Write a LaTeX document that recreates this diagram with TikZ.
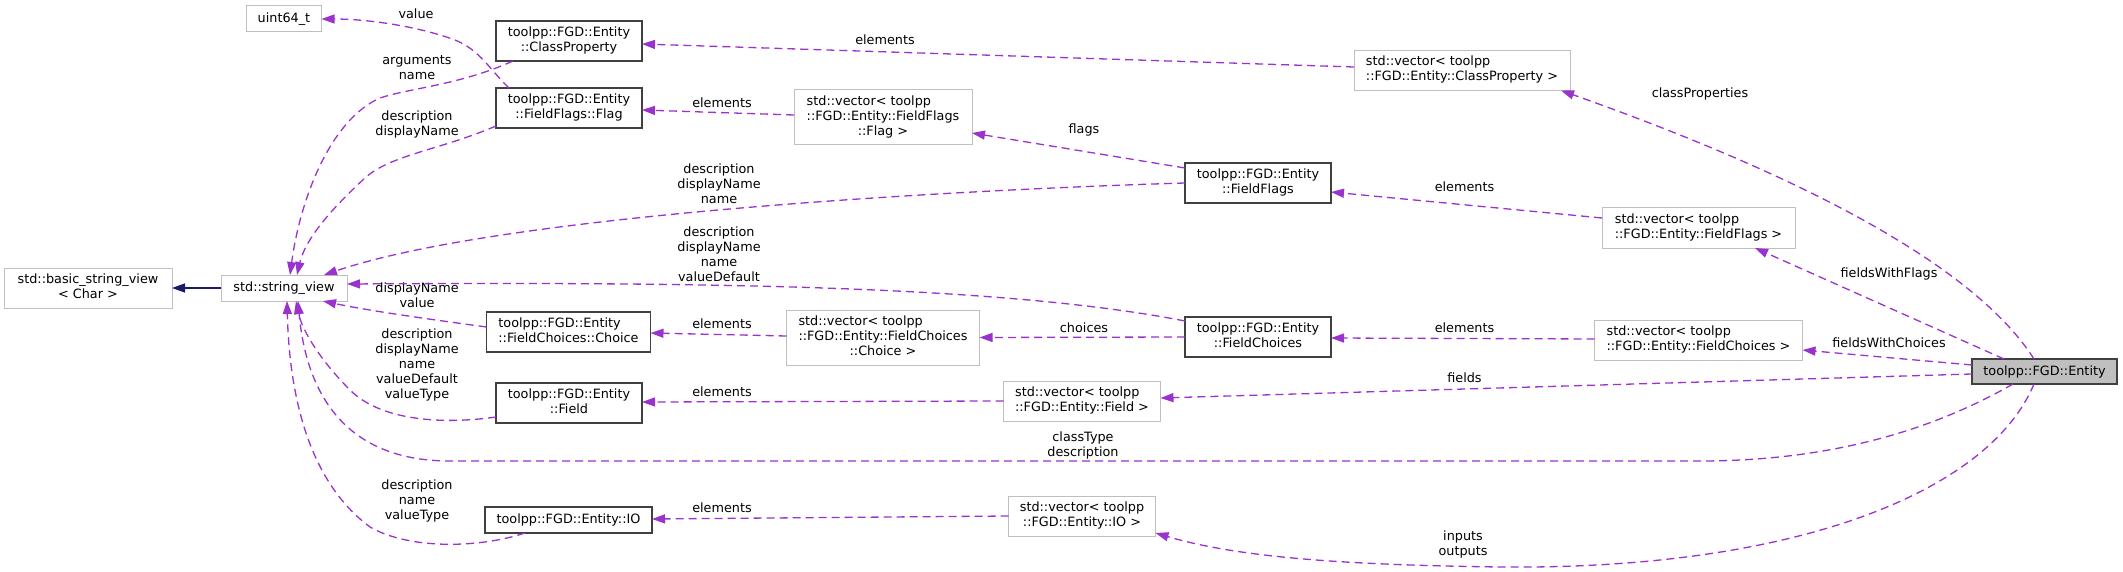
\documentclass[tikz,border=0pt]{standalone}
\usepackage{fontspec}
\setmainfont{DejaVu Sans}
\usetikzlibrary{arrows.meta}
\definecolor{edgec}{HTML}{9A32CD}
\definecolor{inhc}{HTML}{191970}
\definecolor{boxgray}{HTML}{BFBFBF}
\definecolor{rootfill}{HTML}{BFBFBF}
\definecolor{rootdraw}{HTML}{404040}
\newcommand{\LastC}[1]{\multicolumn{1}{@{}c@{}}{#1}}
\newcommand{\BoxText}[1]{\begin{tabular}{@{}l@{}}#1\end{tabular}}
\begin{document}
\begin{tikzpicture}[x=1pt,y=-1pt,
  every node/.style={font=\fontsize{12.8}{15}\selectfont, inner sep=0pt, outer sep=0pt},
  extbox/.style={draw=boxgray, line width=1pt, fill=white},
  clsbox/.style={draw=rootdraw, line width=1.3pt, fill=white},
  rootbox/.style={draw=rootdraw, line width=1.3pt, fill=rootfill},
  sz/.style 2 args={minimum width=#1pt, minimum height=#2pt},
  rel/.style={draw=edgec, line width=1.3pt, dash pattern=on 8pt off 5pt, -{Triangle[length=13pt,width=9pt]}},
  inh/.style={draw=inhc, line width=1.3pt, -{Triangle[length=13pt,width=9pt]}},
  lbl/.style={align=center}]
\useasboundingbox (0,0) rectangle (2123,572);
% nodes
\node[extbox, sz={75}{26}] (uint) at (284,19) {uint64\_t};
\node[clsbox, sz={146}{40}] (cp) at (569,41) {\BoxText{toolpp::FGD::Entity\\\LastC{::ClassProperty}}};
\node[clsbox, sz={146}{40}] (flag) at (569,108) {\BoxText{toolpp::FGD::Entity\\\LastC{::FieldFlags::Flag}}};
\node[extbox, sz={168}{40}] (bsv) at (88,288) {\BoxText{std::basic\_string\_view\\\LastC{< Char >}}};
\node[extbox, sz={126}{26}] (sv) at (284,288) {std::string\_view};
\node[clsbox, sz={164}{40}] (choice) at (568.5,332) {\BoxText{toolpp::FGD::Entity\\\LastC{::FieldChoices::Choice}}};
\node[clsbox, sz={146}{40}] (field) at (569,403) {\BoxText{toolpp::FGD::Entity\\\LastC{::Field}}};
\node[clsbox, sz={167}{26}] (io) at (568.5,520) {toolpp::FGD::Entity::IO};
\node[extbox, sz={216}{40}] (cpvec) at (1462,70.5) {\BoxText{std::vector< toolpp\\\LastC{::FGD::Entity::ClassProperty >}}};
\node[extbox, sz={178}{55}] (flagvec) at (883,117.5) {\BoxText{std::vector< toolpp\\::FGD::Entity::FieldFlags\\\LastC{::Flag >}}};
\node[clsbox, sz={146}{40}] (ff) at (1258,183) {\BoxText{toolpp::FGD::Entity\\\LastC{::FieldFlags}}};
\node[extbox, sz={193}{55}] (choicevec) at (883,337.5) {\BoxText{std::vector< toolpp\\::FGD::Entity::FieldChoices\\\LastC{::Choice >}}};
\node[clsbox, sz={146}{40}] (fc) at (1258,337) {\BoxText{toolpp::FGD::Entity\\\LastC{::FieldChoices}}};
\node[extbox, sz={157}{40}] (fieldvec) at (1082,401) {\BoxText{std::vector< toolpp\\\LastC{::FGD::Entity::Field >}}};
\node[extbox, sz={147}{40}] (iovec) at (1082,516) {\BoxText{std::vector< toolpp\\\LastC{::FGD::Entity::IO >}}};
\node[extbox, sz={193}{40}] (ffvec) at (1698.5,228) {\BoxText{std::vector< toolpp\\\LastC{::FGD::Entity::FieldFlags >}}};
\node[extbox, sz={208}{40}] (fcvec) at (1698.5,340) {\BoxText{std::vector< toolpp\\\LastC{::FGD::Entity::FieldChoices >}}};
\node[rootbox, sz={145}{25}] (entity) at (2044.5,371.5) {toolpp::FGD::Entity};
% labels
\node[lbl] (lb1) at (1700,94) {classProperties};
\node[lbl] (lb2) at (1889,274) {fieldsWithFlags};
\node[lbl] (lb3) at (1889,343) {fieldsWithChoices};
\node[lbl] (lb4) at (1464.5,378) {fields};
\node[lbl] (lb5) at (1083,445) {classType\\description};
\node[lbl] (lb6) at (1463,544.5) {inputs\\outputs};
\node[lbl] (lb7) at (885,40) {elements};
\node[lbl] (lb8) at (1464.5,187) {elements};
\node[lbl] (lb9) at (1464.5,328) {elements};
\node[lbl] (lb10) at (1084,130) {flags};
\node[lbl] (lb11) at (719,184) {description\\displayName\\name};
\node[lbl] (lb12) at (719,254) {description\\displayName\\name\\valueDefault};
\node[lbl] (lb13) at (1084,328) {choices};
\node[lbl] (lb14) at (722,103) {elements};
\node[lbl] (lb15) at (722,324) {elements};
\node[lbl] (lb16) at (722,392) {elements};
\node[lbl] (lb17) at (722,508) {elements};
\node[lbl] (lb18) at (417,67.5) {arguments\\name};
\node[lbl] (lb19) at (417,124) {description\\displayName};
\node[lbl] (lb20) at (416,14) {value};
\node[lbl] (lb21) at (417,295.5) {displayName\\value};
\node[lbl] (lb22) at (417,364.5) {description\\displayName\\name\\valueDefault\\valueType};
\node[lbl] (lb23) at (417,501) {description\\name\\valueType};
% edges
\draw[rel] ([shift={(-10.5,0)}]entity.north) .. controls (1990,290) and (1870,200) .. ([shift={(99,0)}]cpvec.south);
\draw[rel] ([shift={(-40.5,0)}]entity.north) -- ([shift={(56.5,0)}]ffvec.south);
\draw[rel] ([shift={(0,-6.5)}]entity.west) -- ([shift={(0,10)}]fcvec.east);
\draw[rel] ([shift={(0,2.5)}]entity.west) -- ([shift={(0,-3)}]fieldvec.east);
\draw[rel] ([shift={(-31.5,0)}]entity.south) .. controls (1950,420) and (1850,461) .. (1700,461) -- (450,461) .. controls (335,461) and (305,380) .. ([shift={(14,0)}]sv.south);
\draw[rel] ([shift={(-10.5,0)}]entity.south) .. controls (1990,490) and (1800,570) .. (1500,567) .. controls (1350,565) and (1240,558) .. ([shift={(0,17)}]iovec.east);
\draw[rel] ([shift={(0,-3.5)}]cpvec.west) -- ([shift={(0,3)}]cp.east);
\draw[rel] ([shift={(0,-10)}]ffvec.west) -- ([shift={(0,9)}]ff.east);
\draw[rel] ([shift={(0,-1)}]fcvec.west) -- ([shift={(0,1)}]fc.east);
\draw[rel] ([shift={(0,-15)}]ff.west) -- ([shift={(0,15.5)}]flagvec.east);
\draw[rel] (ff.west) .. controls (950,190) and (500,215) .. ([shift={(40,0)}]sv.north);
\draw[rel] ([shift={(0,-16)}]fc.west) .. controls (1000,285) and (700,282) .. ([shift={(0,-4)}]sv.east);
\draw[rel] (fc.west) -- (choicevec.east);
\draw[rel] ([shift={(0,-2.5)}]flagvec.west) -- ([shift={(0,2)}]flag.east);
\draw[rel] ([shift={(0,-1.5)}]choicevec.west) -- ([shift={(0,1)}]choice.east);
\draw[rel] (fieldvec.west) -- ([shift={(0,-1)}]field.east);
\draw[rel] (iovec.west) -- ([shift={(0,-1)}]io.east);
\draw[rel] ([shift={(-56,0)}]cp.south) .. controls (460,85) and (410,88) .. (380,98) .. controls (330,120) and (300,200) .. ([shift={(6,0)}]sv.north);
\draw[rel] ([shift={(0,18)}]flag.west) .. controls (440,150) and (390,155) .. (365,178) .. controls (330,210) and (305,240) .. ([shift={(13,0)}]sv.north);
\draw[rel] ([shift={(-60,0)}]flag.north) .. controls (490,70) and (480,50) .. (455,40) .. controls (420,27) and (370,19) .. (uint.east);
\draw[rel] ([shift={(0,-5)}]choice.west) .. controls (420,318) and (365,310) .. ([shift={(39,0)}]sv.south);
\draw[rel] ([shift={(0,14)}]field.west) .. controls (440,425) and (380,420) .. (350,390) .. controls (320,360) and (302,330) .. ([shift={(12,0)}]sv.south);
\draw[rel] ([shift={(-43.5,0)}]io.south) .. controls (480,548) and (410,550) .. (370,527) .. controls (320,490) and (290,420) .. ([shift={(3,0)}]sv.south);
\draw[inh] (sv.west) -- (bsv.east);
\end{tikzpicture}
\end{document}
